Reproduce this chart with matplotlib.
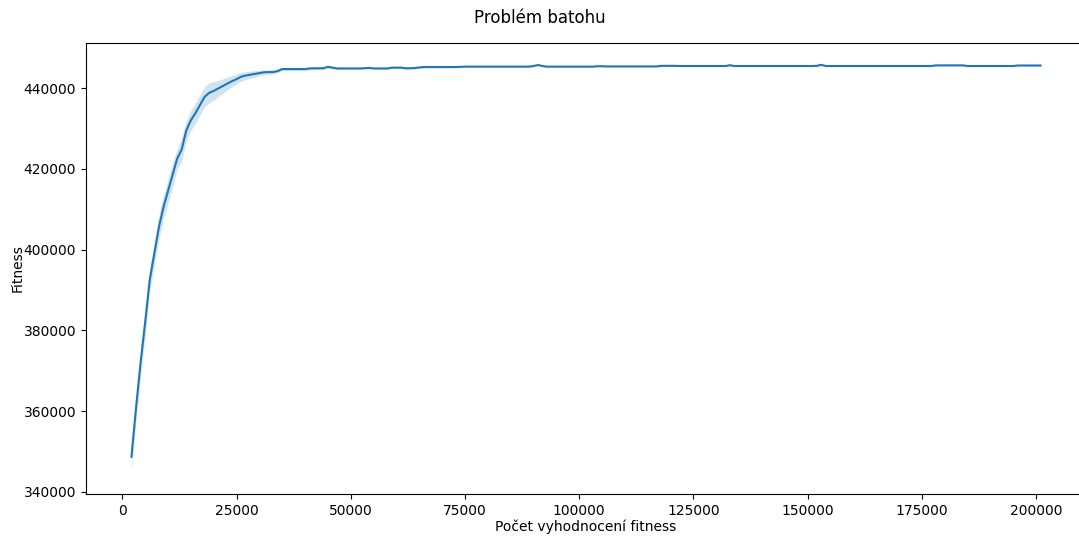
import numpy as np
import matplotlib

matplotlib.use("Agg")
import matplotlib.pyplot as plt

# evaluations (x) and mean fitness, one point per 1000 evaluations
evaluations = np.arange(2000, 202000, 1000)
fitness_mean = [
    348700, 360800, 372000, 382000, 392500, 399000, 405500, 410500, 414500, 418500,
    422500, 424800, 429500, 432000, 433800, 435800, 437800, 438800, 439300, 439900,
    440500, 441100, 441700, 442200, 442800, 443100, 443300, 443500, 443700, 443900,
    443950, 443950, 444200, 444700, 444700, 444700, 444700, 444700, 444700, 444850,
    444880, 444880, 444900, 445250, 445050, 444850, 444850, 444850, 444850, 444850,
    444850, 444900, 445000, 444850, 444850, 444850, 444850, 445050, 445050, 445050,
    444900, 444900, 444950, 445100, 445200, 445200, 445200, 445200, 445200, 445200,
    445200, 445200, 445250, 445300, 445300, 445300, 445300, 445300, 445300, 445300,
    445300, 445300, 445300, 445300, 445300, 445300, 445300, 445300, 445450, 445700,
    445450, 445300, 445300, 445300, 445300, 445300, 445300, 445300, 445300, 445300,
    445300, 445300, 445400, 445400, 445350, 445350, 445350, 445350, 445350, 445350,
    445350, 445350, 445350, 445350, 445350, 445350, 445500, 445500, 445500, 445500,
    445450, 445450, 445450, 445450, 445450, 445450, 445450, 445450, 445450, 445450,
    445450, 445650, 445450, 445450, 445450, 445450, 445450, 445450, 445450, 445450,
    445450, 445450, 445450, 445450, 445450, 445450, 445450, 445450, 445450, 445450,
    445500, 445750, 445450, 445450, 445450, 445450, 445450, 445450, 445450, 445450,
    445450, 445450, 445450, 445450, 445450, 445450, 445450, 445450, 445450, 445450,
    445450, 445450, 445450, 445450, 445450, 445450, 445600, 445620, 445620, 445620,
    445620, 445620, 445620, 445450, 445450, 445450, 445450, 445450, 445450, 445450,
    445450, 445450, 445450, 445450, 445580, 445580, 445580, 445580, 445580, 445580,
]
# half-width of the confidence band around the mean
band_half = [
    3500, 3000, 3500, 3500, 3000, 3000, 3000, 3000, 3000, 3000,
    2500, 3000, 2500, 2500, 2500, 2500, 2500, 2500, 2300, 2000,
    1800, 1600, 1400, 1200, 1100, 1000, 900, 800, 700, 600,
    600, 500, 450, 400, 400, 400, 400, 400, 400, 400,
    350, 350, 350, 300, 300, 250, 250, 250, 250, 250,
    250, 250, 250, 250, 250, 250, 250, 250, 250, 250,
    250, 250, 250, 250, 250, 250, 250, 250, 250, 250,
    200, 200, 200, 200, 200, 200, 200, 200, 200, 200,
    150, 150, 150, 150, 150, 150, 150, 150, 150, 150,
    150, 150, 150, 150, 150, 150, 150, 150, 150, 150,
    150, 150, 150, 150, 150, 150, 150, 150, 150, 150,
    150, 150, 150, 150, 150, 150, 150, 150, 150, 150,
    150, 150, 150, 150, 150, 150, 150, 150, 150, 150,
    150, 150, 150, 150, 150, 150, 150, 150, 150, 150,
    150, 150, 150, 150, 150, 150, 150, 150, 150, 150,
    150, 150, 150, 150, 150, 150, 150, 150, 150, 150,
    150, 150, 150, 150, 150, 150, 150, 150, 150, 150,
    150, 150, 150, 150, 150, 150, 150, 150, 150, 150,
    150, 150, 150, 150, 150, 150, 150, 150, 150, 150,
    150, 150, 150, 150, 150, 150, 150, 150, 150, 150,
]

mean = np.array(fitness_mean, dtype=float)
half = np.array(band_half, dtype=float)

fig = plt.figure(figsize=(10.79, 5.36), dpi=100)
ax = fig.add_axes([86 / 1079, 42 / 536, 1000 / 1079, 451 / 536])

ax.fill_between(evaluations, mean - half, mean + half, color="#1f77b4", alpha=0.2, linewidth=0)
ax.plot(evaluations, mean, color="#1f77b4", linewidth=1.5)

ax.set_xlim(-7950, 210950)
ax.set_ylim(339500, 451150)
ax.set_xlabel("Počet vyhodnocení fitness", labelpad=1)
ax.set_ylabel("Fitness", labelpad=-1)
fig.suptitle("Problém batohu", y=0.983)

fig.savefig("out.png", dpi=100)
